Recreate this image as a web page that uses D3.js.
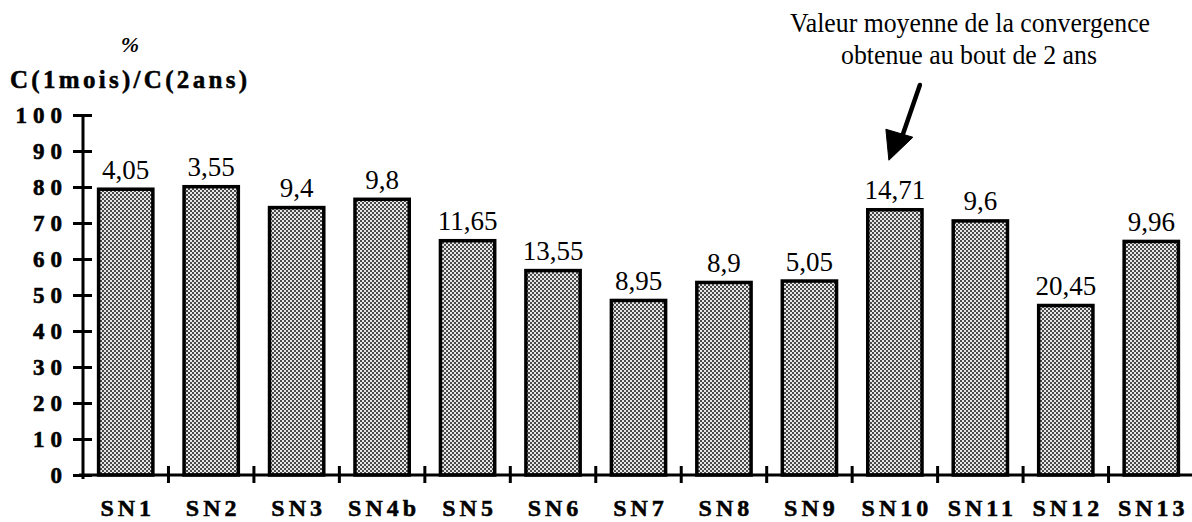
<!DOCTYPE html>
<html>
<head>
<meta charset="utf-8">
<script src="https://cdn.jsdelivr.net/npm/d3@7"></script>
<style>
  html, body { margin: 0; padding: 0; background: #fff; }
  svg { display: block; }
  text { font-family: "Liberation Serif", "Times New Roman", Tinos, "DejaVu Serif", serif; }
</style>
</head>
<body>
<svg id="chart" width="1192" height="522"></svg>
<script>
const categories = ["SN1","SN2","SN3","SN4b","SN5","SN6","SN7","SN8","SN9","SN10","SN11","SN12","SN13"];
const values = [79.8, 80.5, 74.7, 77.0, 65.5, 57.2, 48.9, 53.9, 54.3, 74.1, 71.0, 47.5, 65.3];
const barLabels = ["4,05","3,55","9,4","9,8","11,65","13,55","8,95","8,9","5,05","14,71","9,6","20,45","9,96"];
const yTicks = [0,10,20,30,40,50,60,70,80,90,100];
const yTitleLines = ["%", "C(1mois)/C(2ans)"];
const annotationLines = ["Valeur moyenne de la convergence", "obtenue au bout de 2 ans"];
const annotatedCategory = "SN10";

const svg = d3.select("#chart");
const x0 = 83, x1 = 1194, yTop = 115, yBot = 475;

const x = d3.scaleBand().domain(categories).range([x0, x1]).paddingInner(0.33).paddingOuter(0.165);
const xb = d3.scaleBand().domain(categories).range([x0, x1]);
const y = d3.scaleLinear().domain([0, 100]).range([yBot, yTop]);

// stipple pattern
const defs = svg.append("defs");
const pat = defs.append("pattern").attr("id","stip").attr("patternUnits","userSpaceOnUse")
  .attr("width",4).attr("height",4);
pat.append("rect").attr("width",4).attr("height",4).attr("fill","#e8e8e8");
pat.append("rect").attr("x",0).attr("y",0).attr("width",2).attr("height",2).attr("fill","#4a4a4a");
pat.append("rect").attr("x",2).attr("y",2).attr("width",2).attr("height",2).attr("fill","#4a4a4a");

// bars
svg.append("g").selectAll("rect").data(categories).join("rect")
  .attr("x", d => x(d) + 1.5)
  .attr("y", (d,i) => y(values[i]) + 1.5)
  .attr("width", x.bandwidth() - 3)
  .attr("height", (d,i) => yBot - y(values[i]) - 1.5)
  .attr("fill", "url(#stip)")
  .attr("stroke", "#000")
  .attr("stroke-width", 3.5);

// value labels
svg.append("g").selectAll("text").data(categories).join("text")
  .attr("x", d => x(d) + x.bandwidth()/2)
  .attr("y", (d,i) => y(values[i]) - 9)
  .attr("text-anchor","middle")
  .attr("font-size", 27)
  .attr("fill","#000")
  .text((d,i) => barLabels[i]);

// y axis
const yAxis = d3.axisLeft(y).tickValues(yTicks).tickSize(0).tickFormat(d3.format("d"));
const gy = svg.append("g").attr("transform", `translate(${x0},0)`).call(yAxis);
gy.select(".domain").remove();
gy.selectAll(".tick text").remove();
gy.attr("font-family", null).attr("font-size", null);
svg.append("line").attr("x1",x0).attr("x2",x0).attr("y1",yTop).attr("y2",yBot+4)
  .attr("stroke","#000").attr("stroke-width",3);
gy.selectAll(".tick").append("line").attr("x1",-10).attr("x2",9).attr("y1",0).attr("y2",0)
  .attr("stroke","#000").attr("stroke-width",3);
gy.selectAll(".tick").append("text")
  .attr("x", -21 + 6)
  .attr("dy","0.34em")
  .attr("text-anchor","end")
  .attr("font-weight","bold")
  .attr("font-size", 23)
  .attr("letter-spacing", "6px")
  .attr("fill","#000")
  .attr("stroke","#000").attr("stroke-width",0.6)
  .text(d => d);

// x axis
svg.append("line").attr("x1",x0-4).attr("x2",1192).attr("y1",yBot).attr("y2",yBot)
  .attr("stroke","#000").attr("stroke-width",3);
svg.append("g").selectAll("line").data(categories.slice(1)).join("line")
  .attr("x1", d => xb(d)).attr("x2", d => xb(d))
  .attr("y1", yBot-9).attr("y2", yBot+8)
  .attr("stroke","#000").attr("stroke-width",3);
svg.append("g").selectAll("text").data(categories).join("text")
  .attr("x", d => xb(d) + xb.bandwidth()/2 + 2)
  .attr("y", 516)
  .attr("text-anchor","middle")
  .attr("font-weight","bold")
  .attr("font-size", 24)
  .attr("letter-spacing", "4px")
  .attr("fill","#000")
  .attr("stroke","#000").attr("stroke-width",0.5)
  .text(d => d);

// y title
svg.append("text").attr("x",130).attr("y",52).attr("text-anchor","middle")
  .attr("font-weight","bold").attr("font-style","italic")
  .attr("font-size",22).text(yTitleLines[0]);
svg.append("text").attr("x",10).attr("y",88)
  .attr("font-weight","bold")
  .attr("font-size",25).attr("textLength",237).attr("lengthAdjust","spacing")
  .attr("stroke","#000").attr("stroke-width",0.5)
  .text(yTitleLines[1]);

// annotation
const ann = svg.append("g");
ann.append("text").attr("x",790).attr("y",32)
  .attr("font-size",27)
  .attr("textLength",360).attr("lengthAdjust","spacingAndGlyphs")
  .text(annotationLines[0]);
ann.append("text").attr("x",841).attr("y",64)
  .attr("font-size",27)
  .attr("textLength",256).attr("lengthAdjust","spacingAndGlyphs")
  .text(annotationLines[1]);
// arrow pointing to annotated bar
const ax = xb(annotatedCategory) + xb.bandwidth()/2;
const tipX = ax - 6, tipY = y(values[categories.indexOf(annotatedCategory)]) - 48;
ann.append("line").attr("x1", tipX + 31).attr("y1", 85).attr("x2", tipX + 14).attr("y2", tipY - 26)
  .attr("stroke","#000").attr("stroke-width",4.5).attr("stroke-linecap","round");
ann.append("path")
  .attr("d", `M${tipX},${tipY} L${tipX-3},${tipY-31} L${tipX+24},${tipY-23} Z`)
  .attr("fill","#000").attr("stroke","#000").attr("stroke-width",1);
</script>
</body>
</html>
